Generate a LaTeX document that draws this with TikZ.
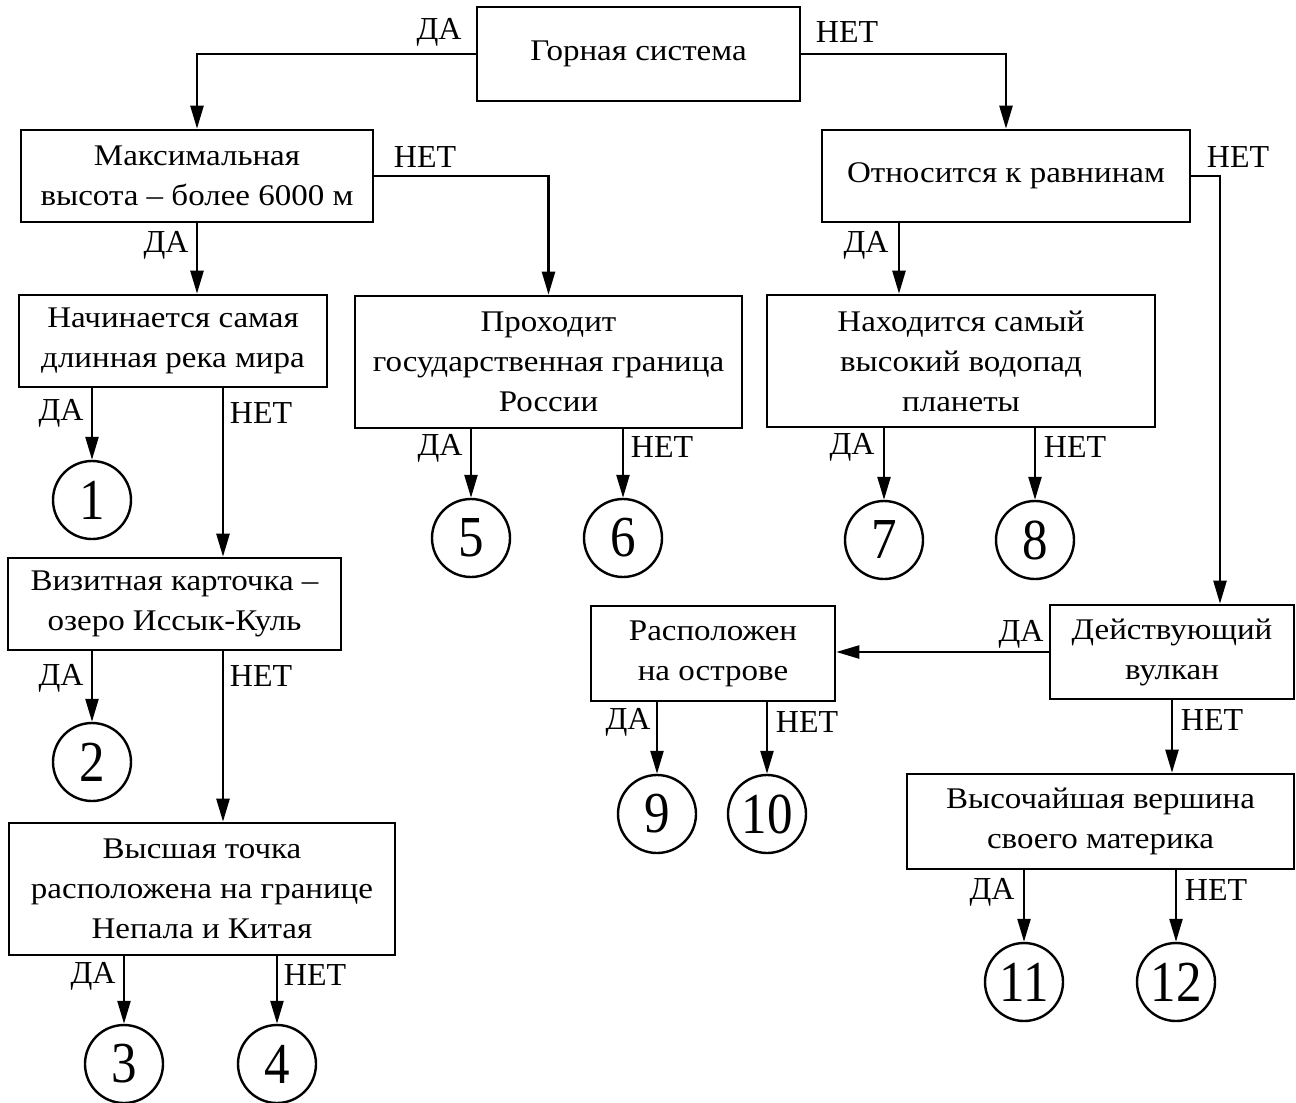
\documentclass[tikz,border=0pt]{standalone}
\usepackage{fontspec}
\setmainfont{Liberation Serif}
\newfontfamily\boxfont[FakeStretch=1.1]{Liberation Serif}
\newfontfamily\digitfont[FakeStretch=0.88]{Liberation Serif}
\usetikzlibrary{arrows.meta}
\begin{document}
\begin{tikzpicture}[x=1pt,y=-1pt,
  box/.style={draw, line width=2.6pt, align=center, inner sep=0pt, font=\boxfont\fontsize{30}{40}\selectfont},
  num/.style={draw, circle, line width=2.4pt, minimum size=78pt, inner sep=0pt, font=\digitfont\fontsize{58}{58}\selectfont},
  lbl/.style={inner sep=0pt, font=\fontsize{32}{32}\selectfont},
  arr/.style={line width=2.4pt, -{Triangle[length=23pt,width=13pt]}}]
\useasboundingbox (0,0) rectangle (1296,1103);
% boxes
\node[box, minimum width=323pt, minimum height=94pt] (top) at (638.5,54) {Горная система};
\node[box, minimum width=352pt, minimum height=92pt] (maxh) at (197,176) {Максимальная\\высота – более 6000 м};
\node[box, minimum width=368pt, minimum height=92pt] (plains) at (1006,176) {Относится к равнинам};
\node[box, minimum width=308pt, minimum height=92pt] (river) at (173,341) {Начинается самая\\длинная река мира};
\node[box, minimum width=387pt, minimum height=132pt] (border) at (548.5,362) {Проходит\\государственная граница\\России};
\node[box, minimum width=388pt, minimum height=132pt] (fall) at (961,361) {Находится самый\\высокий водопад\\планеты};
\node[box, minimum width=333pt, minimum height=92pt] (issyk) at (174.5,604) {Визитная карточка –\\озеро Иссык-Куль};
\node[box, minimum width=386pt, minimum height=132pt] (nepal) at (202,889) {Высшая точка\\расположена на границе\\Непала и Китая};
\node[box, minimum width=244pt, minimum height=95pt] (island) at (713,653.5) {Расположен\\на острове};
\node[box, minimum width=244pt, minimum height=94pt] (volcano) at (1172,652) {Действующий\\вулкан};
\node[box, minimum width=387pt, minimum height=95pt] (summit) at (1100.5,821.5) {Высочайшая вершина\\своего материка};
% circles
\node[num] (c1) at (92,500) {1};
\node[num] (c2) at (92,762) {2};
\node[num] (c3) at (124,1064) {3};
\node[num] (c4) at (277,1064) {4};
\node[num] (c5) at (471,538) {5};
\node[num] (c6) at (623,538) {6};
\node[num] (c7) at (884,540) {7};
\node[num] (c8) at (1035,540) {8};
\node[num] (c9) at (657,814) {9};
\node[num] (c10) at (767,814) {10};
\node[num] (c11) at (1024,982) {11};
\node[num] (c12) at (1176,982) {12};
% connectors
\draw[arr] (top.west) -| (maxh.north);
\draw[arr] (top.east) -| (plains.north);
\draw[arr] (maxh.east) -| (border.north);
\draw[arr] (maxh.south) -- (maxh.south |- river.north);
\draw[arr] ([xshift=-107pt]plains.south) -- ([xshift=-107pt]plains.south |- fall.north);
\draw[arr] (plains.east) -| ([xshift=48pt]volcano.north);
\draw[arr] (river.south -| c1.north) -- (c1.north);
\draw[arr] ([xshift=50pt]river.south) -- ([xshift=50pt]river.south |- issyk.north);
\draw[arr] (issyk.south -| c2.north) -- (c2.north);
\draw[arr] ([xshift=48.5pt]issyk.south) -- ([xshift=48.5pt]issyk.south |- nepal.north);
\draw[arr] (nepal.south -| c3.north) -- (c3.north);
\draw[arr] (nepal.south -| c4.north) -- (c4.north);
\draw[arr] (border.south -| c5.north) -- (c5.north);
\draw[arr] (border.south -| c6.north) -- (c6.north);
\draw[arr] (fall.south -| c7.north) -- (c7.north);
\draw[arr] (fall.south -| c8.north) -- (c8.north);
\draw[arr] (volcano.west) -- (volcano.west -| island.east);
\draw[arr] (island.south -| c9.north) -- (c9.north);
\draw[arr] (island.south -| c10.north) -- (c10.north);
\draw[arr] (volcano.south) -- (volcano.south |- summit.north);
\draw[arr] (summit.south -| c11.north) -- (c11.north);
\draw[arr] (summit.south -| c12.north) -- (c12.north);
% labels
\node[lbl] (l1) at (439,32) {ДА};
\node[lbl] (l2) at (847,32) {НЕТ};
\node[lbl] (l3) at (425,157) {НЕТ};
\node[lbl] (l4) at (166,245) {ДА};
\node[lbl] (l5) at (1238,157) {НЕТ};
\node[lbl] (l6) at (866,245) {ДА};
\node[lbl] (l7) at (61,413) {ДА};
\node[lbl] (l8) at (261,413) {НЕТ};
\node[lbl] (l9) at (440,448) {ДА};
\node[lbl] (l10) at (662,447) {НЕТ};
\node[lbl] (l11) at (852,447) {ДА};
\node[lbl] (l12) at (1075,447) {НЕТ};
\node[lbl] (l13) at (61,678) {ДА};
\node[lbl] (l14) at (261,676) {НЕТ};
\node[lbl] (l15) at (1021,634) {ДА};
\node[lbl] (l16) at (1212,720) {НЕТ};
\node[lbl] (l17) at (628,722) {ДА};
\node[lbl] (l18) at (807,722) {НЕТ};
\node[lbl] (l19) at (93,976) {ДА};
\node[lbl] (l20) at (315,975) {НЕТ};
\node[lbl] (l21) at (992,892) {ДА};
\node[lbl] (l22) at (1216,890) {НЕТ};
\end{tikzpicture}
\end{document}
